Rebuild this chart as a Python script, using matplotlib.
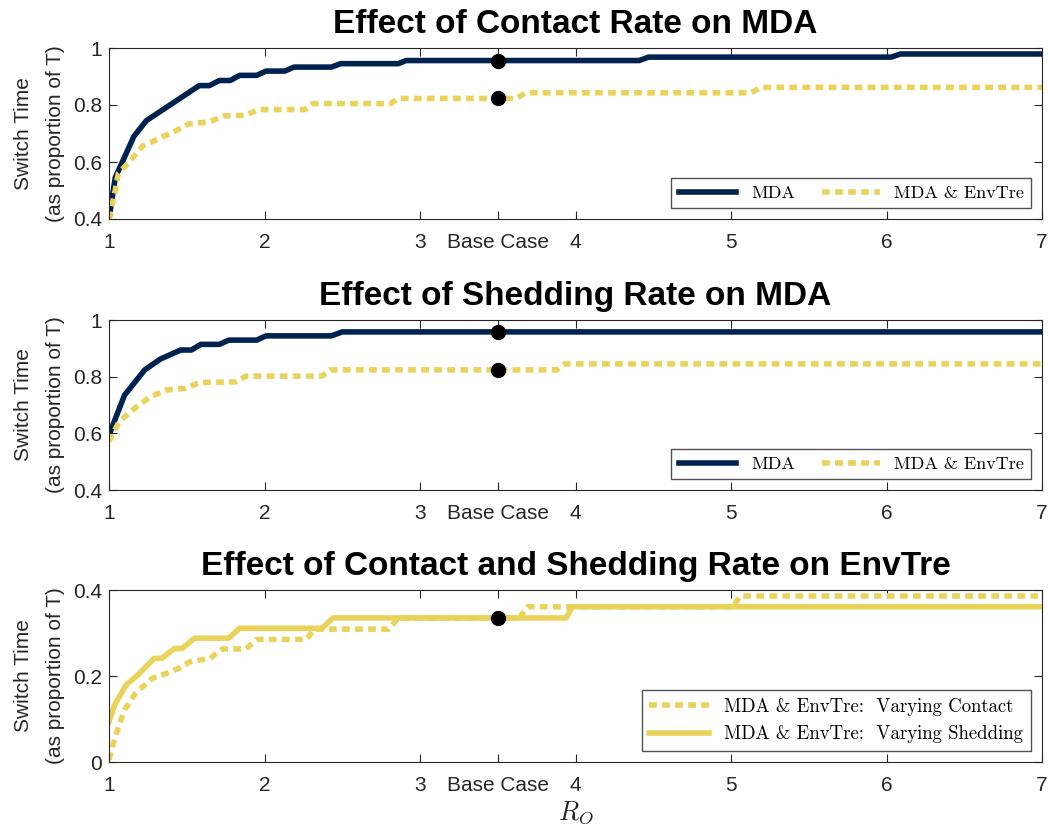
import matplotlib
matplotlib.use("Agg")
import matplotlib.pyplot as plt

plt.rcParams['font.family'] = ['Liberation Sans', 'DejaVu Sans']
plt.rcParams['mathtext.fontset'] = 'cm'

NAVY = '#00224f'
GOLD = '#e9d35b'
GRID = '#262626'

# x-axis ticks (R_O) with the base case marked at 3.5
xticks = [1, 2, 3, 3.5, 4, 5, 6, 7]
xticklabels = ['1', '2', '3', 'Base Case', '4', '5', '6', '7']
base_r0 = 3.5

# panel 1: varying contact rate
contact_x_mda = [1.0, 1.04, 1.16, 1.24, 1.58, 1.645, 1.71, 1.78, 1.84, 1.95, 2.01, 2.13,
                 2.19, 2.43, 2.49, 2.86, 2.91, 4.41, 4.47, 6.03, 6.09, 7.0]
contact_y_mda = [0.40, 0.545, 0.69, 0.745, 0.868, 0.868, 0.886, 0.886, 0.904, 0.904, 0.919, 0.919,
                 0.933, 0.933, 0.945, 0.945, 0.956, 0.956, 0.968, 0.968, 0.979, 0.979]
contact_x_env = [1.0, 1.04, 1.06, 1.13, 1.215, 1.29, 1.45, 1.51, 1.645, 1.74, 1.88, 1.96,
                 2.26, 2.31, 2.81, 2.86, 3.62, 3.68, 5.13, 5.19, 7.0]
contact_y_env = [0.40, 0.50, 0.56, 0.60, 0.656, 0.674, 0.715, 0.733, 0.741, 0.762, 0.764, 0.784,
                 0.784, 0.805, 0.805, 0.823, 0.823, 0.843, 0.843, 0.862, 0.862]
contact_base = [0.956, 0.823]

# panel 2: varying shedding rate
shed_x_mda = [1.0, 1.10, 1.23, 1.33, 1.46, 1.53, 1.59, 1.71, 1.77, 1.95, 2.01, 2.43, 2.50, 7.0]
shed_y_mda = [0.594, 0.735, 0.824, 0.862, 0.894, 0.894, 0.914, 0.914, 0.929, 0.929, 0.944, 0.944,
              0.958, 0.958]
shed_x_env = [1.0, 1.065, 1.15, 1.26, 1.37, 1.49, 1.58, 1.82, 1.88, 2.37, 2.42, 3.88, 3.93, 7.0]
shed_y_env = [0.571, 0.641, 0.682, 0.727, 0.753, 0.759, 0.779, 0.782, 0.802, 0.802, 0.824, 0.824,
              0.845, 0.845]
shed_base = [0.958, 0.824]

# panel 3: EnvTre switch time
env_x_contact = [1.0, 1.04, 1.10, 1.17, 1.28, 1.37, 1.45, 1.52, 1.65, 1.73, 1.88, 1.95, 2.27,
                 2.32, 2.80, 2.86, 3.64, 3.69, 5.01, 5.06, 7.0]
env_y_contact = [0.005, 0.059, 0.121, 0.16, 0.195, 0.206, 0.218, 0.233, 0.241, 0.263, 0.263,
                 0.285, 0.285, 0.309, 0.309, 0.335, 0.335, 0.361, 0.361, 0.386, 0.386]
env_x_shed = [1.0, 1.04, 1.11, 1.19, 1.29, 1.34, 1.42, 1.47, 1.55, 1.77, 1.84, 2.37, 2.44,
              3.94, 3.98, 7.0]
env_y_shed = [0.094, 0.136, 0.179, 0.204, 0.241, 0.241, 0.264, 0.264, 0.288, 0.288, 0.311, 0.311,
              0.335, 0.335, 0.361, 0.361]
env_base = [0.335]

W, H = 1049, 827
fig = plt.figure(figsize=(W / 100, H / 100), dpi=100)


def make_axes(top, bottom):
    ax = fig.add_axes([109 / W, (H - bottom) / H, (1042 - 109) / W, (bottom - top) / H])
    ax.set_xlim(1, 7)
    ax.set_xticks(xticks)
    ax.set_xticklabels(xticklabels)
    ax.tick_params(direction='in', top=True, right=True, length=6, width=0.8,
                   labelsize=15, colors=GRID)
    ax.tick_params(axis='x', pad=10)
    ax.tick_params(axis='y', pad=5)
    for s in ax.spines.values():
        s.set_color(GRID)
        s.set_linewidth(0.8)
    ax.set_ylabel('Switch Time\n(as proportion of T)', fontsize=15, color=GRID,
                  labelpad=6, linespacing=1.85)
    return ax


def legend_kw(size):
    return dict(loc='lower right', frameon=True, fancybox=False, edgecolor=GRID,
                prop={'family': ['cmr10', 'DejaVu Serif'], 'size': size},
                handlelength=3.2, borderaxespad=0.6, borderpad=0.4)


dot_kw = dict(color=GOLD, lw=4, dashes=(1.4, 0.95), dash_capstyle='butt')
title_kw = dict(fontsize=24, fontweight='bold', pad=11)

# panel 1
ax1 = make_axes(48, 219)
ax1.plot(contact_x_mda, contact_y_mda, color=NAVY, lw=4, label='MDA')
ax1.plot(contact_x_env, contact_y_env, label='MDA & EnvTre', **dot_kw)
ax1.plot([base_r0] * 2, contact_base, 'o', color='black', ms=10, zorder=5)
ax1.set_ylim(0.4, 1)
ax1.set_yticks([0.4, 0.6, 0.8, 1])
ax1.set_yticklabels(['0.4', '0.6', '0.8', '1'])
ax1.set_title('Effect of Contact Rate on MDA', **title_kw)
ax1.legend(ncol=2, columnspacing=1.5, **legend_kw(13))

# panel 2
ax2 = make_axes(320, 490)
ax2.plot(shed_x_mda, shed_y_mda, color=NAVY, lw=4, label='MDA')
ax2.plot(shed_x_env, shed_y_env, label='MDA & EnvTre', **dot_kw)
ax2.plot([base_r0] * 2, shed_base, 'o', color='black', ms=10, zorder=5)
ax2.set_ylim(0.4, 1)
ax2.set_yticks([0.4, 0.6, 0.8, 1])
ax2.set_yticklabels(['0.4', '0.6', '0.8', '1'])
ax2.set_title('Effect of Shedding Rate on MDA', **title_kw)
ax2.legend(ncol=2, columnspacing=1.5, **legend_kw(13))

# panel 3
ax3 = make_axes(590, 762)
ax3.plot(env_x_contact, env_y_contact, label='MDA & EnvTre:  Varying Contact', **dot_kw)
ax3.plot(env_x_shed, env_y_shed, color=GOLD, lw=4, label='MDA & EnvTre:  Varying Shedding')
ax3.plot([base_r0], env_base, 'o', color='black', ms=10, zorder=5)
ax3.set_ylim(0, 0.4)
ax3.set_yticks([0, 0.2, 0.4])
ax3.set_yticklabels(['0', '0.2', '0.4'])
ax3.set_title('Effect of Contact and Shedding Rate on EnvTre', **title_kw)
ax3.legend(ncol=1, **legend_kw(13.5))
ax3.set_xlabel('$R_O$', fontsize=19, color=GRID, labelpad=3)

fig.savefig('out.png', dpi=100)
